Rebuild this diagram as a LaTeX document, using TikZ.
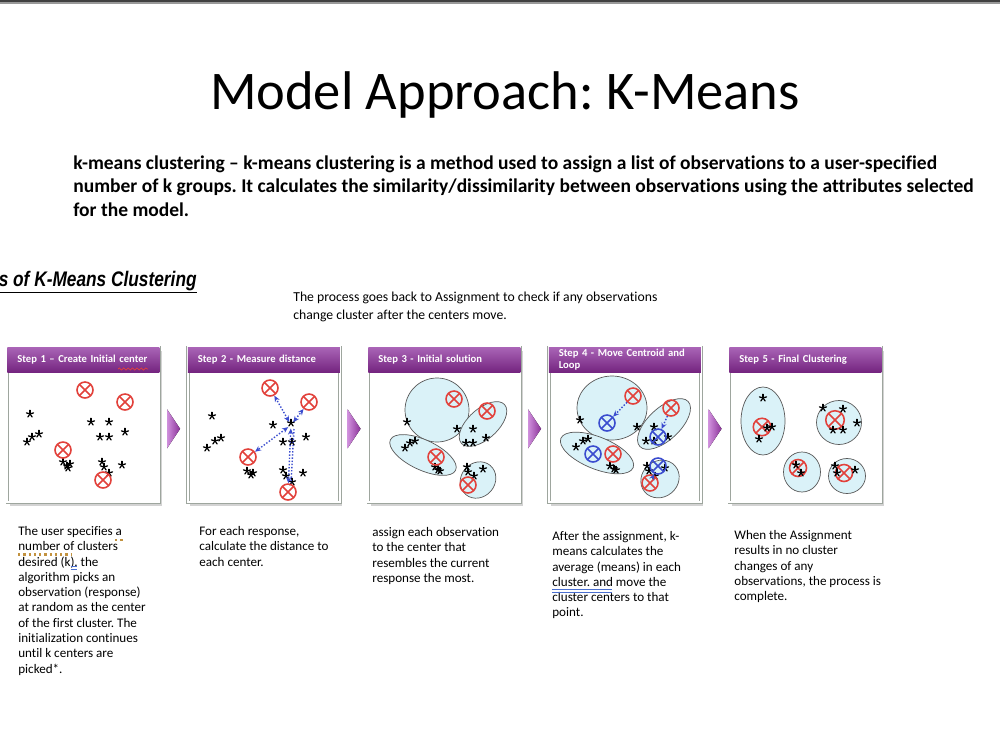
\documentclass[tikz,border=0pt]{standalone}
\usepackage{fontspec}
\usepackage{graphicx}
\setmainfont{Carlito}[Ligatures=NoCommon]
\newfontfamily\headingfont{Liberation Sans}
\usetikzlibrary{arrows.meta,calc,shadows,decorations.pathmorphing}
\definecolor{headtop}{HTML}{A964B6}
\definecolor{headbot}{HTML}{74247F}
\definecolor{framecol}{HTML}{9EA69E}
\definecolor{cluscol}{HTML}{DAF2F8}
\definecolor{ctrred}{HTML}{E2413B}
\definecolor{ctrblue}{HTML}{3A4CCF}
\definecolor{chevlight}{HTML}{CF8FDC}
\definecolor{chevdark}{HTML}{8A3198}
\definecolor{spellorange}{HTML}{C2923F}
\definecolor{spellblue}{HTML}{4A6FD0}
\frenchspacing

\tikzset{
  stepbox/.style={draw=framecol, double=white, double distance=1.2pt, line width=0.4pt, fill=white,
    minimum width=3.04cm, minimum height=3.1cm, inner sep=0pt, anchor=north west,
    drop shadow={shadow xshift=1.5pt, shadow yshift=-2pt, opacity=0.35}},
  stephead/.style={top color=headtop, bottom color=headbot, anchor=north west, minimum width=3.04cm,
    minimum height=0.5cm, text width=2.64cm, inner xsep=0.2cm, inner ysep=0pt, align=left,
    text=white, font=\bfseries\fontsize{6.05}{6.8}\selectfont},
  clus/.style={draw=black!65, fill=cluscol, line width=0.4pt},
  ctr/.style={circle, draw=#1, line width=0.9pt, minimum size=0.32cm, inner sep=0pt,
    path picture={\draw[#1, line width=0.9pt] (path picture bounding box.north west) -- (path picture bounding box.south east)
      (path picture bounding box.north east) -- (path picture bounding box.south west);}},
  ctr/.default=ctrred,
  obs/.pic={\foreach \a in {-90,-18,54,126,198} \draw[line width=0.7pt, line cap=round] (0,0) -- (\a:3.7);},
  distarrow/.style={ctrblue, densely dotted, line width=0.8pt, {Stealth[length=3.5pt,width=3pt]}-{Stealth[length=3.5pt,width=3pt]}},
  movearrow/.style={ctrblue, densely dotted, line width=0.8pt, -{Stealth[length=3.5pt,width=3pt]}},
  capt/.style={anchor=north west, align=left, inner sep=0pt, font=\fontsize{7.45}{8.7}\selectfont},
  chev/.style={left color=chevlight, right color=chevdark, draw=none},
}

\begin{document}
\begin{tikzpicture}[x=0.02cm, y=-0.02cm, font=\fontsize{7}{8.5}\selectfont]
\useasboundingbox (0,0) rectangle (1000,750);
\fill[black!75] (0,0) rectangle (1000,2.2);
\fill[black!40] (0,2.2) rectangle (1000,3.6);

\node[anchor=base, font=\fontsize{31}{38}\selectfont] (title) at (505,110) {Model Approach: K-Means};

\node[anchor=north west, align=left, inner sep=0pt, font=\bfseries\fontsize{11.1}{13.3}\selectfont] (intro) at (73,155.5)
  {k-means clustering – k-means clustering is a method used to assign a list of observations to a user-specified\\
   number of k groups. It calculates the similarity/dissimilarity between observations using the attributes selected\\
   for the model.};

\node[anchor=base east, inner sep=0pt] (steps) at (197,286)
  {\scalebox{0.82}[1]{\headingfont\bfseries\itshape\fontsize{12}{14}\selectfont\underline{s of K-Means Clustering}}};

\node[anchor=north west, align=left, inner sep=0pt, font=\fontsize{7.8}{10.2}\selectfont] (loopnote) at (293,292)
  {The process goes back to Assignment to check if any observations\\change cluster after the centers move.};

% the five step boxes
\node[stepbox] (box1) at (7,347) {};
\node[stepbox] (box2) at (187.5,347) {};
\node[stepbox] (box3) at (368,347) {};
\node[stepbox] (box4) at (548.5,347) {};
\node[stepbox] (box5) at (729,347) {};
\node[stephead] (head1) at (box1.north west) {Step 1 – Create Initial center};
\node[stephead] (head2) at (box2.north west) {Step 2 - Measure distance};
\node[stephead] (head3) at (box3.north west) {Step 3 - Initial solution};
\node[stephead] (head4) at (box4.north west) {Step 4 - Move Centroid and\\Loop};
\node[stephead] (head5) at (box5.north west) {Step 5 - Final Clustering};

\foreach \i/\j in {1/2,2/3,3/4,4/5} {
  \coordinate (gap\i) at ($(box\i.east)!0.5!(box\j.west)+(0,4)$);
  \fill[chev] ($(gap\i)+(-6.5,-19.5)$) -- ($(gap\i)+(6.5,0)$) -- ($(gap\i)+(-6.5,19.5)$) -- cycle;
}

% step 1
\foreach \x/\y in {30/414,27/442,32/437,39/434,91/422,109/422,125/432,100/437,109/437,
  63/462,67/466,70/464,68/468,102/462,104/467,109/473,122/465}
  \pic at (\x,\y) {obs};
\node[ctr] (c11) at (85,390) {};
\node[ctr] (c12) at (125,402) {};
\node[ctr] (c13) at (63,450) {};
\node[ctr] (c14) at (103,480) {};

% step 2
\foreach \x/\y in {212/416,207/448,215/441,221/438,273/425,291/423,306/437,283/442,292/442,
  247/471,251/475,253/473,283/470,286/476,292/482,303/473}
  \pic at (\x,\y) {obs};
\node[ctr] (c21) at (270,388) {};
\node[ctr] (c22) at (309,402) {};
\node[ctr] (c23) at (248,457) {};
\node[ctr] (c24) at (288,492) {};
\coordinate (m2) at (291,425);
\draw[distarrow, shorten <=2pt] (m2) -- (c21);
\draw[distarrow, shorten <=2pt] (m2) -- (c22);
\draw[distarrow, shorten <=2pt] (m2) -- (c23);
\draw[distarrow, shorten <=2pt] (m2) -- (c24);
\draw[ctrblue, densely dotted, line width=0.8pt] ($(m2)+(3,4)$) -- ($(c24.north)+(3,0)$);

% step 3
\draw[clus] (437,410) circle [radius=32];
\draw[clus, rotate around={42:(483,424)}] (483,424) ellipse [x radius=29, y radius=15];
\draw[clus, rotate around={-25:(423,455)}] (423,455) ellipse [x radius=36, y radius=15];
\draw[clus, rotate around={50:(478,480)}] (478,480) ellipse [x radius=19, y radius=17];
\foreach \x/\y in {407/422,405/448,410/443,415/441,435/467,438/470,440/471,457/429,473/429,
  486/438,466/443,473/443,467/467,468/472,474/476,483/469}
  \pic at (\x,\y) {obs};
\node[ctr] (c31) at (454,399) {};
\node[ctr] (c32) at (487,411) {};
\node[ctr] (c33) at (436,457) {};
\node[ctr] (c34) at (468,485) {};

% step 4
\draw[clus] (612,408) ellipse [x radius=35, y radius=32];
\draw[clus, rotate around={43:(664,424)}] (664,424) ellipse [x radius=33, y radius=16];
\draw[clus, rotate around={-22:(597,453)}] (597,453) ellipse [x radius=39, y radius=16];
\draw[clus, rotate around={40:(660,479)}] (660,479) ellipse [x radius=20, y radius=18];
\foreach \x/\y in {580/420,637/427,654/427,646/441,654/441,668/437,576/447,583/441,588/439,
  610/466,614/469,616/470,647/466,649/471,655/476,665/468}
  \pic at (\x,\y) {obs};
\node[ctr] (c41r) at (633,396) {};
\node[ctr=ctrblue] (c41b) at (607,423) {};
\node[ctr] (c42r) at (671,408) {};
\node[ctr=ctrblue] (c42b) at (658,437) {};
\node[ctr] (c43r) at (613,454) {};
\node[ctr=ctrblue] (c43b) at (593,454) {};
\node[ctr] (c44r) at (650,483) {};
\node[ctr=ctrblue] (c44b) at (658,466) {};
\draw[movearrow] (c41r) -- (c41b);
\draw[movearrow] (c42r) -- (c42b);
\draw[movearrow] (c44r) -- (c44b);

% step 5
\draw[clus] (763,421) ellipse [x radius=22, y radius=34];
\draw[clus] (839,422.5) ellipse [x radius=22.5, y radius=22];
\draw[clus] (802,472) ellipse [x radius=18.5, y radius=20];
\draw[clus] (847,476) ellipse [x radius=18.5, y radius=17.5];
\node[ctr, minimum size=0.35cm] (c51) at (762,427) {};
\node[ctr, minimum size=0.37cm] (c52) at (835,420) {};
\node[ctr, minimum size=0.34cm] (c53) at (798,468) {};
\node[ctr, minimum size=0.34cm] (c54) at (844,473) {};
\foreach \x/\y in {763/398,767/428,772/427,759/439,823/408,843/409,857/423,833/430,843/430,
  796/465,801/473,835/466,837/473,855/470}
  \pic at (\x,\y) {obs};

% captions
\node[capt] (text1) at (18,526) {The user specifies a\\number of clusters\\desired (k). the\\algorithm picks an\\observation (response)\\at random as the center\\of the first cluster. The\\initialization continues\\until k centers are\\picked*.};
\node[capt] (text2) at (199,526) {For each response,\\calculate the distance to\\each center.};
\node[capt] (text3) at (372,527) {assign each observation\\to the center that\\resembles the current\\response the most.};
\node[capt] (text4) at (552,531) {After the assignment, k-\\means calculates the\\average (means) in each\\cluster. and move the\\cluster centers to that\\point.};
\node[capt] (text5) at (734,530) {When the Assignment\\results in no cluster\\changes of any\\observations, the process is\\complete.};

% proofing marks
\draw[ctrred, line width=0.4pt, decorate, decoration={snake, amplitude=0.6pt, segment length=2.5pt}] (118,369) -- (148,369);
\draw[spellorange, line width=1.4pt, dash pattern=on 1.3pt off 1.7pt] (115,540) -- (124,540) (18,554.5) -- (72,554.5);
\draw[spellblue, line width=0.5pt] (70.5,566.5) -- (77,566.5) (70.5,569) -- (77,569);
\draw[spellblue, line width=0.5pt] (552,589.5) -- (612,589.5) (552,592) -- (612,592);
\end{tikzpicture}
\end{document}
